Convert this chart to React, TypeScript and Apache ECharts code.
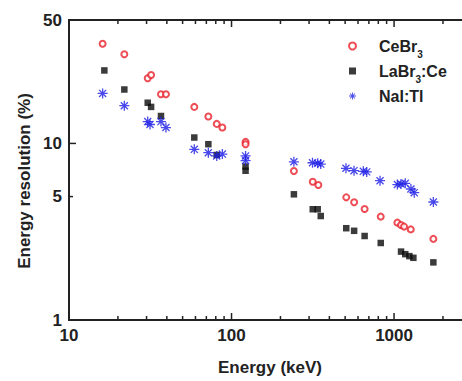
import React, { useEffect, useRef } from "react";
import * as echarts from "echarts";

// ---- Data ----
const ceBr3Energy = [16.1, 21.9, 30.5, 32.0, 36.8, 39.5, 59.0, 72.0, 81.1, 87.8, 122, 122, 242, 316, 342, 508, 568, 659, 828, 1048, 1103, 1152, 1267, 1745];
const ceBr3Res = [36.7, 32.0, 23.4, 24.4, 19.0, 19.0, 16.1, 14.2, 12.9, 12.3, 10.2, 9.9, 6.98, 6.07, 5.81, 4.95, 4.64, 4.25, 3.85, 3.56, 3.45, 3.38, 3.26, 2.88];

const laBr3Energy = [16.5, 21.9, 30.5, 32.0, 36.8, 59.0, 72.0, 81.1, 122, 122, 242, 316, 339, 354, 508, 568, 659, 828, 1104, 1172, 1242, 1315, 1745];
const laBr3Res = [25.9, 20.2, 17.0, 16.1, 14.3, 10.8, 9.9, 8.6, 7.4, 7.0, 5.15, 4.24, 4.24, 3.88, 3.31, 3.2, 2.99, 2.73, 2.44, 2.36, 2.3, 2.25, 2.12];

const naIEnergy = [16.1, 21.9, 30.5, 31.5, 36.8, 39.5, 59.0, 72.0, 81.1, 87.8, 122, 122, 242, 315, 339, 354, 506, 567, 647, 679, 820, 1048, 1104, 1172, 1270, 1331, 1745];
const naIRes = [19.2, 16.35, 13.3, 12.8, 13.3, 12.3, 9.26, 8.86, 8.5, 8.7, 8.5, 8.0, 7.87, 7.77, 7.72, 7.64, 7.23, 7.01, 6.95, 6.9, 6.15, 5.85, 5.89, 5.94, 5.52, 5.26, 4.66];

const xMajorTicks = [10, 100, 1000];
const xMinorTicks = [20, 30, 40, 50, 60, 70, 80, 90, 200, 300, 400, 500, 600, 700, 800, 900, 2000];
const yMajorTicks = [1, 10];
const yMinorTicks = [5, 50];
const yTickLabels = [1, 5, 10, 50];

const X_MIN = 10;
const X_MAX = 3000;
const Y_MIN = 1;
const Y_MAX = 50;

const FONT = '"Liberation Sans", Arial, Helvetica, sans-serif';
const AXIS_COLOR = "#222";

function asteriskPath(): string {
  const c = 10, L = 10, w = 1.3;
  const parts: string[] = [];
  [0, 45, 90, 135].forEach((deg) => {
    const a = (deg * Math.PI) / 180;
    const dx = Math.cos(a), dy = Math.sin(a);
    const nx = -dy, ny = dx;
    const pts = [
      [c + L * dx + w * nx, c + L * dy + w * ny],
      [c + L * dx - w * nx, c + L * dy - w * ny],
      [c - L * dx - w * nx, c - L * dy - w * ny],
      [c - L * dx + w * nx, c - L * dy + w * ny],
    ];
    parts.push(
      "M" + pts.map((p) => p[0].toFixed(2) + " " + p[1].toFixed(2)).join(" L") + " Z"
    );
  });
  return "path://" + parts.join(" ");
}

function zip(a: number[], b: number[]) {
  return a.map((v, i) => [v, b[i]]);
}

export default function App() {
  const ref = useRef<HTMLDivElement>(null);

  useEffect(() => {
    if (!ref.current) return;
    const chart = echarts.init(ref.current, null, { renderer: "svg" });

    const xTickData = [
      ...xMajorTicks.map((v) => [v, Y_MIN, 1]),
      ...xMinorTicks.map((v) => [v, Y_MIN, 0]),
    ];
    const yTickData = [
      ...yMajorTicks.map((v) => [X_MIN, v, 1]),
      ...yMinorTicks.map((v) => [X_MIN, v, 0]),
    ];
    const yLabelData = yTickLabels.map((v) => [X_MIN, v]);

    const lineStyle = { stroke: AXIS_COLOR, lineWidth: 1.5 };

    const option: any = {
      animation: false,
      backgroundColor: "#fff",
      grid: {
        left: 69,
        top: 20,
        width: 402.6,
        height: 300,
        outerBoundsMode: "none",
        containLabel: false,
        show: true,
        borderColor: AXIS_COLOR,
        borderWidth: 2,
        backgroundColor: "transparent",
      },
      xAxis: {
        type: "log",
        logBase: 10,
        min: X_MIN,
        max: X_MAX,
        axisLine: { show: false },
        axisTick: { show: false },
        axisLabel: { show: false },
        splitLine: { show: false },
      },
      yAxis: {
        type: "log",
        logBase: 10,
        min: Y_MIN,
        max: Y_MAX,
        axisLine: { show: false },
        axisTick: { show: false },
        axisLabel: { show: false },
        splitLine: { show: false },
      },
      legend: {
        orient: "vertical",
        left: 343,
        top: 33,
        itemWidth: 7,
        itemHeight: 7,
        itemGap: 4,
        data: ["CeBr3", "LaBr3:Ce", "NaI:Tl"],
        formatter: (name: string) => {
          if (name === "CeBr3") return "{a|CeBr}{s|3}";
          if (name === "LaBr3:Ce") return "{a|LaBr}{s|3}{a|:Ce}";
          return "{a|NaI:Tl}";
        },
        textStyle: {
          padding: [0, 0, 0, 18],
          rich: {
            a: {
              fontFamily: FONT,
              fontWeight: "bold",
              fontSize: 16,
              color: AXIS_COLOR,
              lineHeight: 26,
            },
            s: {
              fontFamily: FONT,
              fontWeight: "bold",
              fontSize: 10,
              color: AXIS_COLOR,
              lineHeight: 10,
              verticalAlign: "bottom",
            },
          },
        },
      },
      graphic: [
        {
          type: "text",
          x: 270,
          y: 367,
          style: {
            text: "Energy (keV)",
            font: `bold 17px ${FONT}`,
            fill: AXIS_COLOR,
            align: "center",
            verticalAlign: "middle",
          },
        },
        {
          type: "text",
          x: 24,
          y: 181,
          rotation: Math.PI / 2,
          style: {
            text: "Energy resolution (%)",
            font: `bold 17px ${FONT}`,
            fill: AXIS_COLOR,
            align: "center",
            verticalAlign: "middle",
          },
        },
      ],
      series: [
        {
          name: "CeBr3",
          type: "scatter",
          symbol: "emptyCircle",
          symbolSize: 6,
          itemStyle: { color: "#e8202a", borderColor: "#e8202a", borderWidth: 1.5 },
          data: zip(ceBr3Energy, ceBr3Res),
          z: 3,
        },
        {
          name: "LaBr3:Ce",
          type: "scatter",
          symbol: "rect",
          symbolSize: 6.5,
          itemStyle: { color: "#0a0a0a" },
          data: zip(laBr3Energy, laBr3Res),
          z: 4,
        },
        {
          name: "NaI:Tl",
          type: "scatter",
          symbol: asteriskPath(),
          symbolSize: 10,
          symbolKeepAspect: true,
          itemStyle: { color: "#1c1ce6" },
          data: zip(naIEnergy, naIRes),
          z: 5,
        },
        {
          name: "xticks",
          type: "custom",
          clip: false,
          silent: true,
          z: 10,
          data: xTickData,
          renderItem: (params: any, api: any) => {
            const v = api.value(0);
            const major = api.value(2) === 1;
            const b = api.coord([v, Y_MIN]);
            const t = api.coord([v, Y_MAX]);
            const len = major ? 7 : 4;
            const children: any[] = [
              { type: "line", shape: { x1: b[0], y1: b[1], x2: b[0], y2: b[1] - len }, style: lineStyle },
              { type: "line", shape: { x1: t[0], y1: t[1], x2: t[0], y2: t[1] + len }, style: lineStyle },
            ];
            if (major) {
              children.push({
                type: "text",
                x: b[0],
                y: b[1] + 15,
                style: {
                  text: String(v),
                  font: `bold 17px ${FONT}`,
                  fill: AXIS_COLOR,
                  align: "center",
                  verticalAlign: "middle",
                },
              });
            }
            return { type: "group", children };
          },
        },
        {
          name: "yticks",
          type: "custom",
          clip: false,
          silent: true,
          z: 10,
          data: yTickData,
          renderItem: (params: any, api: any) => {
            const v = api.value(1);
            const major = api.value(2) === 1;
            const p = api.coord([X_MIN, v]);
            const len = major ? 7 : 4;
            return {
              type: "line",
              shape: { x1: p[0], y1: p[1], x2: p[0] + len, y2: p[1] },
              style: lineStyle,
            };
          },
        },
        {
          name: "ylabels",
          type: "custom",
          clip: false,
          silent: true,
          z: 10,
          data: yLabelData,
          renderItem: (params: any, api: any) => {
            const v = api.value(1);
            const p = api.coord([X_MIN, v]);
            return {
              type: "text",
              x: p[0] - 7,
              y: p[1],
              style: {
                text: String(v),
                font: `bold 17px ${FONT}`,
                fill: AXIS_COLOR,
                align: "right",
                verticalAlign: "middle",
              },
            };
          },
        },
      ],
    };

    chart.setOption(option);
    return () => {
      chart.dispose();
    };
  }, []);

  return (
    <div
      style={{
        position: "fixed",
        left: 0,
        top: 0,
        width: 462,
        height: 381,
        overflow: "hidden",
        background: "#fff",
      }}
    >
      <div ref={ref} style={{ width: 480, height: 381 }} />
    </div>
  );
}
